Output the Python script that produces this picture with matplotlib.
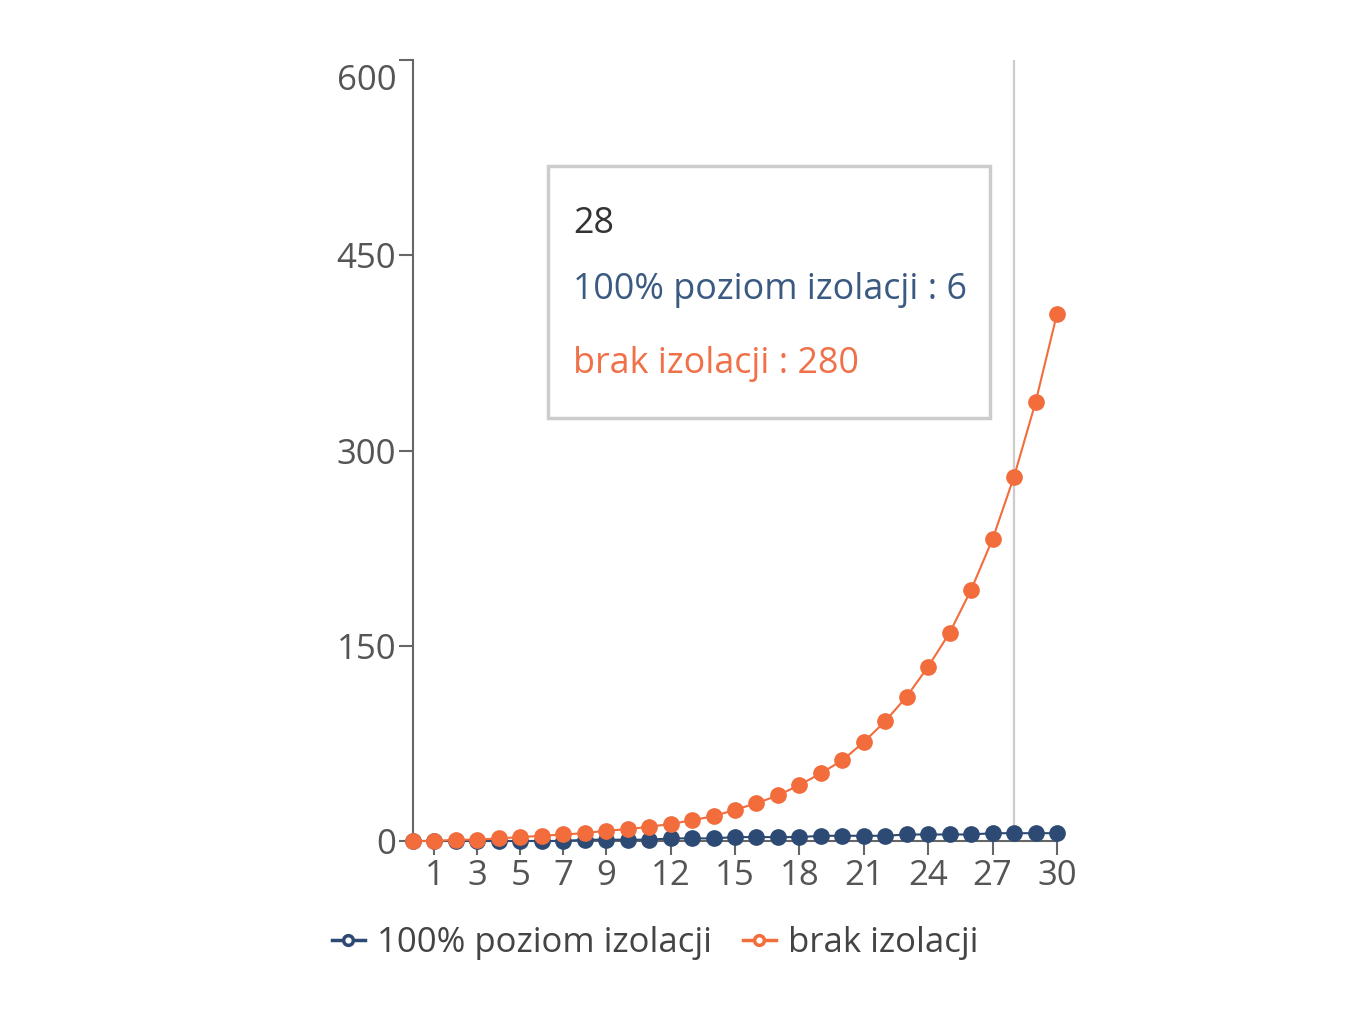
import numpy as np
import matplotlib.pyplot as plt
import matplotlib.transforms as mtransforms

plt.rcParams['font.family'] = ['Open Sans', 'DejaVu Sans']

days = list(range(0, 31))
full_isolation = [0, 0, 0, 0, 0, 0, 0, 0, 1, 1, 1, 1, 2, 2, 2, 3,
                  3, 3, 3, 4, 4, 4, 4, 5, 5, 5, 5, 6, 6, 6, 6]
no_isolation = [0, 0, 1, 1, 2, 3, 4, 5, 6, 8, 9, 11, 13, 16, 19, 24,
                29, 35, 43, 52, 62, 76, 92, 111, 134, 160, 193, 232, 280, 337, 405]
x_ticks = [1, 3, 5, 7, 9, 12, 15, 18, 21, 24, 27, 30]
y_ticks = [0, 150, 300, 450, 600]
labels = ["100% poziom izolacji", "brak izolacji"]
hover_day = 28

blue = "#2c4a73"
orange = "#f26c3c"
gray = "#666666"
fs = 25

fig = plt.figure(figsize=(13.66, 10.25), dpi=100)
ax = fig.add_axes([413 / 1366, (1025 - 841) / 1025, 644 / 1366, 781 / 1025])

ax.axvline(hover_day, ymin=0.01, color="#cccccc", lw=1.6, zorder=1)

l1, = ax.plot(days, full_isolation, color=blue, lw=1.5, marker="o", ms=11,
              clip_on=False, zorder=3)
l2, = ax.plot(days, no_isolation, color=orange, lw=1.5, marker="o", ms=11,
              clip_on=False, zorder=4)

ax.set_xlim(0, 30)
ax.set_ylim(0, 600)
ax.set_xticks(x_ticks)
ax.set_yticks(y_ticks)
for s in ["top", "right"]:
    ax.spines[s].set_visible(False)
for s in ["left", "bottom"]:
    ax.spines[s].set_color(gray)
    ax.spines[s].set_linewidth(1.5)
ax.tick_params(axis="both", colors=gray, labelsize=fs, length=10, width=1.5,
               pad=2, labelcolor="#555555")
ax.tick_params(axis="x", pad=3)

# top label sits a little lower, as in the original
lab600 = ax.get_yticklabels()[-1]
lab600.set_transform(lab600.get_transform() +
                     mtransforms.ScaledTranslation(0, -0.17, fig.dpi_scale_trans))

# tooltip box
box = plt.Rectangle((548 / 1366, 1 - 418 / 1025), 442 / 1366, 252 / 1025,
                    transform=fig.transFigure, facecolor="white",
                    edgecolor="#cccccc", lw=2.5, zorder=5)
fig.patches.append(box)
idx = days.index(hover_day)
tfs = 25.8
fig.text(573 / 1366, 1 - 224 / 1025, str(hover_day), color="#333333",
         fontsize=tfs, va="center", zorder=6)
fig.text(573 / 1366, 1 - 290 / 1025, f"{labels[0]} : {full_isolation[idx]}",
         color="#3a5a82", fontsize=tfs, va="center", zorder=6)
fig.text(573 / 1366, 1 - 364 / 1025, f"{labels[1]} : {no_isolation[idx]}",
         color="#f07048", fontsize=tfs, va="center", zorder=6)

h1, = ax.plot([], [], color=blue, lw=2.5, marker="o", ms=7,
              markerfacecolor="white", markeredgewidth=2.5)
h2, = ax.plot([], [], color=orange, lw=2.5, marker="o", ms=7,
              markerfacecolor="white", markeredgewidth=2.5)
fig.legend([h1, h2], labels, loc="center", bbox_to_anchor=(655 / 1366, 1 - 943 / 1025),
           ncol=2, frameon=False, fontsize=fs, handlelength=0.95, handletextpad=0.35,
           columnspacing=0.9, labelcolor="#444444")

fig.savefig("out.png", dpi=100, facecolor="white")
